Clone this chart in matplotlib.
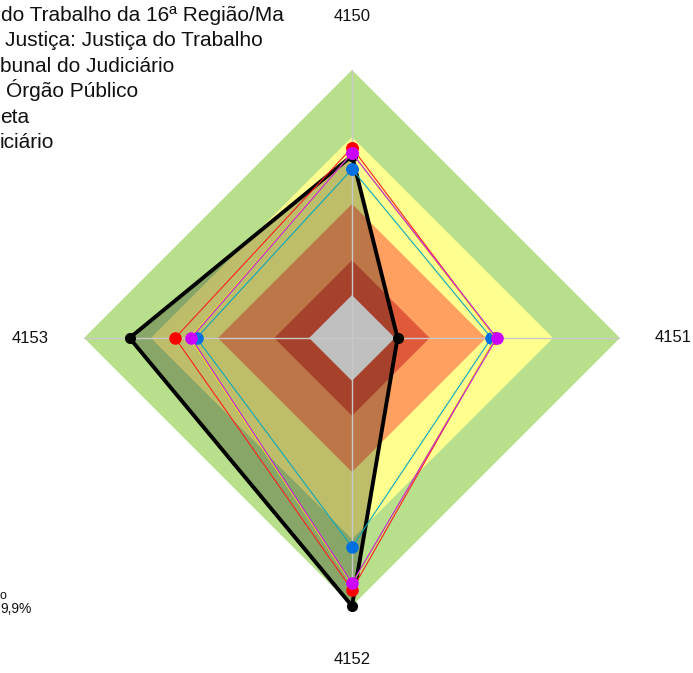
import numpy as np
import matplotlib.pyplot as plt

plt.rcParams['font.family'] = ['Liberation Sans', 'DejaVu Sans']

# axes of the radar (clockwise from top)
axis_labels = ["4150", "4151", "4152", "4153"]

# background bands (outer radius, colour), drawn from outside in
band_radius = [1.0, 0.75, 0.50, 0.29]
band_colors = ["#b8e08c", "#ffff90", "#ffa060", "#e05a3a"]
center_radius = 0.16
center_color = "#c0c0c0"

# series values (fraction of outer radius)
black_vals = [0.68, 0.17, 1.00, 0.83]
cyan_vals = [0.63, 0.52, 0.78, 0.58]
red_vals = [0.71, 0.535, 0.94, 0.66]
yellow_vals = [0.69, 0.535, 0.92, 0.605]
magenta_vals = [0.69, 0.54, 0.915, 0.60]

# legend text as far as it shows in the picture
legend_lines = [
    "do Trabalho da 16ª Região/Ma",
    "Justiça: Justiça do Trabalho",
    "bunal do Judiciário",
    "Órgão Público",
    "eta",
    "iciário",
]
legend_left = [1, 5, 0, 6, 0, 0]
note_lines = ["o", "9,9%"]

W, H = 693, 673
fig = plt.figure(figsize=(W / 100, H / 100), dpi=100)
cx, cy, R = 352, 338, 268
ax = fig.add_axes([(cx - R) / W, (H - cy - R) / H, 2 * R / W, 2 * R / H],
                  projection='polar')
ax.set_theta_offset(np.pi / 2)
ax.set_theta_direction(-1)
ax.set_ylim(0, 1)
ax.axis('off')

theta = np.arange(4) * np.pi / 2
closed = np.append(theta, theta[0])


def close(v):
    return np.append(v, v[0])


for r, c in zip(band_radius, band_colors):
    ax.fill(closed, [r] * 5, color=c, lw=0, zorder=1)

# darkened area inside the black series
ax.fill(closed, close(black_vals), color="black", alpha=0.26, lw=0, zorder=2)
ax.fill(closed, [center_radius] * 5, color=center_color, lw=0, zorder=3)

for t in theta:
    ax.plot([t, t], [0, 1], color="#c8c8c8", lw=1, zorder=4)

ax.plot(closed, close(black_vals), color="black", lw=2.8, marker='o',
        ms=7, zorder=5, clip_on=False)
ax.plot(closed, close(red_vals), color="#ff2020", lw=0.8, marker='o',
        ms=8, mfc="red", mec="red", zorder=6, clip_on=False)
ax.plot(closed, close(cyan_vals), color="#10a8b8", lw=0.8, marker='o',
        ms=8, mfc="#0070e0", mec="#0070e0", zorder=7, clip_on=False)
ax.plot(closed, close(yellow_vals), color="#f0e020", lw=0.8, zorder=8,
        clip_on=False)
ax.plot(closed, close(magenta_vals), color="#c020e0", lw=0.8, marker='o',
        ms=8, mfc="#cc00ff", mec="#cc00ff", zorder=9, clip_on=False)

for t, lab in zip(theta, axis_labels):
    ax.text(t, 1.2, lab, ha='center', va='center', fontsize=12, color="#111111")

for i, (txt, xl) in enumerate(zip(legend_lines, legend_left)):
    y = 21 + i * 25.4
    fig.text(xl / W, 1 - y / H, txt, ha='left', va='baseline', fontsize=15,
             color="#111111")

fig.text(0, 1 - 599 / H, note_lines[0], ha='left', va='baseline',
         fontsize=9, color="#111111")
fig.text(0, 1 - 613 / H, note_lines[1], ha='left', va='baseline',
         fontsize=10, color="#111111")

fig.savefig("out.png", dpi=100)
